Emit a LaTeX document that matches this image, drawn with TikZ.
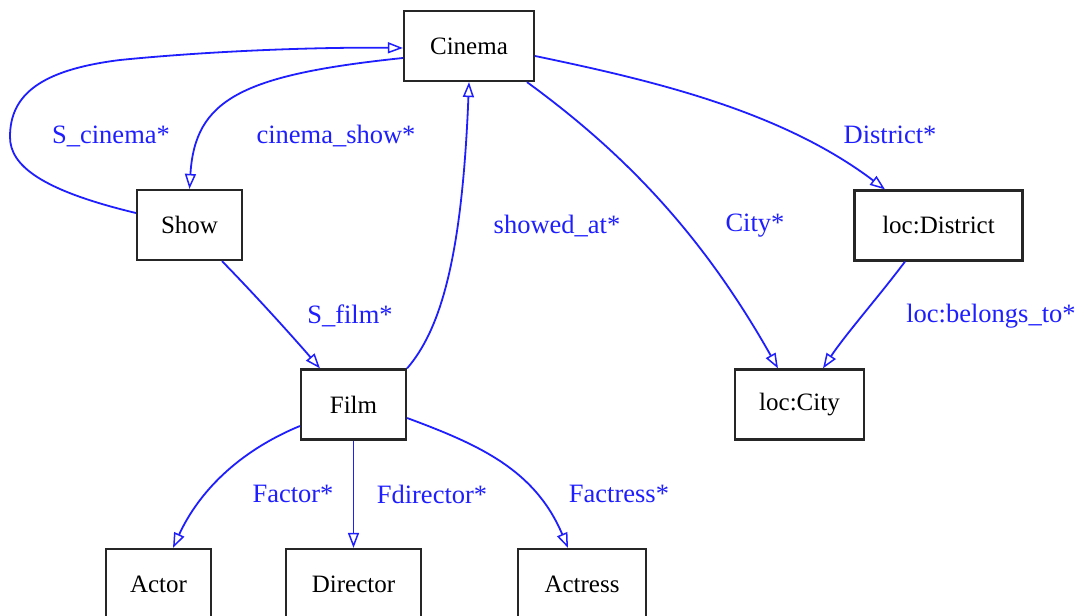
\documentclass[tikz,border=0pt]{standalone}
\usepackage{fontspec}
\setmainfont{Liberation Serif}
\usetikzlibrary{arrows.meta}
\definecolor{edgeblue}{RGB}{30,30,255}
\begin{document}
\begin{tikzpicture}[x=1pt,y=-1pt,
  entity/.style={draw=black!85,line width=2.2pt,minimum height=70pt,inner sep=0pt,
    font=\fontsize{25}{30}\selectfont},
  rel/.style={draw=edgeblue,line width=1.8pt,
    -{Triangle[open,length=15pt,width=11pt,line width=1.5pt]}},
  rellabel/.style={text=edgeblue,inner sep=0pt,font=\fontsize{26.5}{31}\selectfont}]
\useasboundingbox (0,0) rectangle (1080,616);

% entities
\node[entity,minimum width=130pt] (cinema)   at (469,46)    {Cinema};
\node[entity,minimum width=105pt] (show)     at (189.5,225) {Show};
\node[entity,minimum width=105pt] (film)     at (353.5,404.5) {Film};
\node[entity,minimum width=105pt] (actor)    at (158.5,584) {Actor};
\node[entity,minimum width=135pt] (director) at (353.5,584) {Director};
\node[entity,minimum width=128pt] (actress)  at (582,584)   {Actress};
\node[entity,minimum width=168pt] (district) at (938.5,225.5) {loc:District};
\node[entity,minimum width=129pt] (city)     at (799.5,404.5) {loc:City};

% relations
\draw[rel] ([yshift=12pt]show.west)
  .. controls (40,190) and (10,165) .. (10,137)
  .. controls (10,95) and (40,70) .. (120,60)
  .. controls (220,50) and (330,47) .. ([yshift=-2pt]cinema.west);
\draw[rel] ([yshift=-12pt]cinema.west)
  .. controls (240,75) and (195,100) .. (show.north);
\draw[rel] ([xshift=32.5pt]show.south)
  .. controls (260,300) and (300,345) .. ([xshift=-33.5pt]film.north);
\draw[rel] (film.north east)
  .. controls (440,330) and (462,260) .. (cinema.south);
\draw[rel] ([xshift=58pt]cinema.south)
  .. controls (620,150) and (700,230) .. ([xshift=-21.5pt]city.north);
\draw[rel] ([yshift=-10pt]cinema.east)
  .. controls (650,80) and (780,110) .. ([xshift=-53.5pt]district.north);
\draw[rel] ([xshift=-33.5pt]district.south)
  .. controls (880,295) and (845,335) .. ([xshift=23.5pt]city.north);
\draw[rel] ([yshift=-21.5pt]film.west)
  .. controls (230,455) and (195,500) .. ([xshift=14.5pt]actor.north);
\draw[rel] (film.south) -- (director.north);
\draw[rel] ([yshift=-13.5pt]film.east)
  .. controls (480,445) and (535,470) .. ([xshift=-14pt]actress.north);

% relation names
\node[rellabel] (lcinema)   at (111,136) {S\_cinema*};
\node[rellabel] (lshow)     at (336,136) {cinema\_show*};
\node[rellabel] (lfilm)     at (350,316) {S\_film*};
\node[rellabel] (lshowed)   at (557,226) {showed\_at*};
\node[rellabel] (lcity)     at (755,226) {City*};
\node[rellabel] (ldistrict) at (890,135) {District*};
\node[rellabel] (lbelongs)  at (991,316) {loc:belongs\_to*};
\node[rellabel] (lactor)    at (293,494) {Factor*};
\node[rellabel] (ldirector) at (432,494) {Fdirector*};
\node[rellabel] (lactress)  at (619,494) {Factress*};
\end{tikzpicture}
\end{document}
